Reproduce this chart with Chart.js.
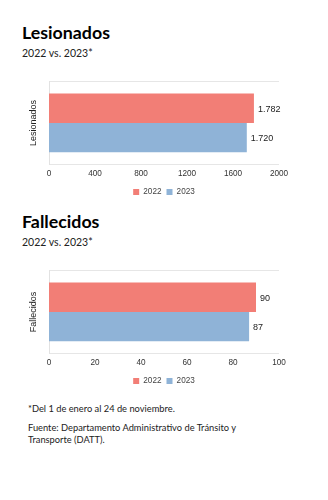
<!DOCTYPE html>
<html><head><meta charset="utf-8">
<script src="https://cdn.jsdelivr.net/npm/chart.js@4/dist/chart.umd.min.js"></script>
<style>
html,body{margin:0;padding:0;background:#fff;width:328px;height:500px;overflow:hidden;position:relative;font-family:Lato,"Open Sans",sans-serif;color:#111;}
.t{position:absolute;left:22px;font-weight:700;font-size:17.8px;line-height:20px;color:#000;}
.s{position:absolute;left:22px;font-size:10.5px;line-height:14px;color:#222;}
.c{position:absolute;left:0;width:328px;height:136px;}
.n{position:absolute;left:28px;font-size:9.3px;line-height:12px;color:#222;width:280px;}
</style></head><body>
<div class="t" style="top:22px">Lesionados</div>
<div class="s" style="top:46px">2022 vs. 2023*</div>
<div class="c" style="top:70px"><canvas id="c1"></canvas></div>
<div class="t" style="top:211px">Fallecidos</div>
<div class="s" style="top:235px">2022 vs. 2023*</div>
<div class="c" style="top:259px"><canvas id="c2"></canvas></div>
<div class="n" style="top:403px">*Del 1 de enero al 24 de noviembre.</div>
<div class="n" style="top:422px">Fuente: Departamento Administrativo de Tránsito y<br>Transporte (DATT).</div>
<script>
const seriesNames = ["2022", "2023"];
const lesionadosCategory = ["Lesionados"];
const lesionados2022 = [1782];
const lesionados2023 = [1720];
const lesionadosTicks = [0, 400, 800, 1200, 1600, 2000];
const fallecidosCategory = ["Fallecidos"];
const fallecidos2022 = [90];
const fallecidos2023 = [87];
const fallecidosTicks = [0, 20, 40, 60, 80, 100];
const colors = ["#F27E76", "#8FB3D7"];

Chart.defaults.font.family = '"Liberation Sans", Arial, sans-serif';
Chart.defaults.color = "#333";

function fmt(v){ return String(v).replace(/\B(?=(\d{3})+(?!\d))/g, "."); }

const valueLabels = {
  id: "valueLabels",
  afterDatasetsDraw(chart){
    const ctx = chart.ctx;
    ctx.save();
    ctx.font = '9px "Liberation Sans", Arial, sans-serif';
    ctx.fillStyle = "#222";
    ctx.textBaseline = "middle";
    ctx.textAlign = "left";
    chart.data.datasets.forEach((ds, i) => {
      chart.getDatasetMeta(i).data.forEach((el, j) => {
        ctx.fillText(fmt(ds.data[j]), el.x + 4, el.y + 1);
      });
    });
    ctx.restore();
  }
};

function makeChart(id, cats, a, b, ticks){
  new Chart(document.getElementById(id), {
    type: "bar",
    data: {
      labels: cats,
      datasets: [
        {label: seriesNames[0], data: a, backgroundColor: colors[0], barPercentage: 1, categoryPercentage: 0.7},
        {label: seriesNames[1], data: b, backgroundColor: colors[1], barPercentage: 1, categoryPercentage: 0.7}
      ]
    },
    options: {
      indexAxis: "y",
      responsive: true,
      maintainAspectRatio: false,
      animation: false,
      layout: {padding: {top: 11, right: 0, left: 0, bottom: 0}},
      plugins: {
        tooltip: {enabled: false},
        legend: {
          position: "bottom",
          labels: {boxWidth: 6, boxHeight: 6, padding: 5, font: {size: 8.2}, color: "#444"}
        }
      },
      scales: {
        x: {
          min: ticks[0], max: ticks[ticks.length - 1],
          afterBuildTicks(scale){ scale.ticks = ticks.map(v => ({value: v})); },
          afterFit(scale){ scale.height = 18; },
          grid: {display: false, drawTicks: false},
          border: {display: false},
          ticks: {maxRotation: 0, padding: 4.5, font: {size: 8.2}, color: "#333", callback: v => String(v)}
        },
        y: {
          afterFit(scale){ scale.width = 49; },
          grid: {color: "#e6e6e6", drawTicks: false},
          border: {color: "#e2e2e2"},
          ticks: {display: false},
          title: {display: true, text: cats[0], font: {size: 9}, color: "#222", padding: {top: 28, bottom: 0}}
        },
        yRight: {
          type: "category",
          position: "right",
          afterFit(scale){ scale.width = 49; },
          grid: {display: false, drawTicks: false},
          border: {display: false},
          ticks: {display: false}
        }
      }
    },
    plugins: [valueLabels]
  });
}
makeChart("c1", lesionadosCategory, lesionados2022, lesionados2023, lesionadosTicks);
makeChart("c2", fallecidosCategory, fallecidos2022, fallecidos2023, fallecidosTicks);
</script>
</body></html>
